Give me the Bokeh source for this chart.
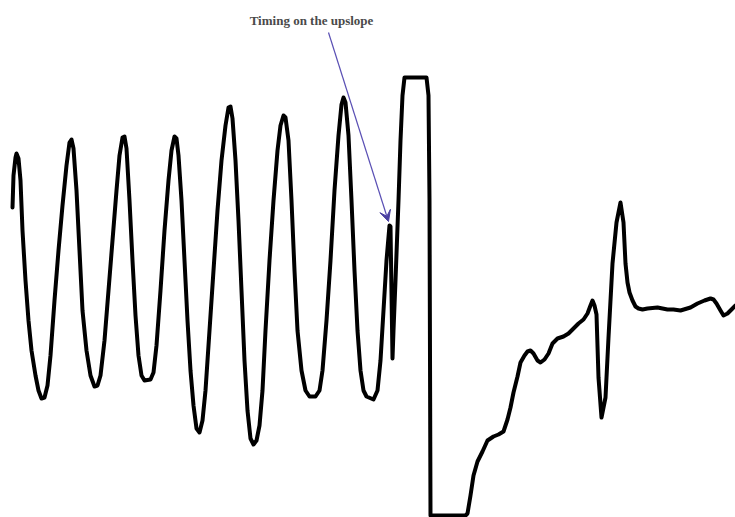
from bokeh.plotting import figure
from bokeh.models import Arrow, VeeHead, Range1d, Label
from bokeh.embed import file_html
from bokeh.resources import INLINE

# Arterial pressure trace (time in samples, pressure in arbitrary units)
t = [12, 13, 15, 16, 18, 20, 22, 25, 28, 31, 35, 38, 41, 44, 47, 50, 54, 58, 62, 66,
     69, 71, 73, 76, 79, 82, 86, 90, 94, 97, 100, 104, 108, 112, 116, 119, 122, 124, 126,
     129, 132, 135, 138, 141, 144, 150, 153, 156, 160, 164, 168, 171, 174, 176, 178, 181,
     184, 187, 190, 193, 196, 199, 202, 205, 209, 213, 217, 221, 225, 228, 230, 232, 235,
     238, 241, 244, 247, 250, 253, 256, 259, 262, 265, 269, 273, 277, 280, 283, 285, 288,
     291, 294, 297, 301, 305, 309, 315, 319, 322, 326, 330, 334, 338, 341, 343, 345, 348,
     351, 354, 357, 360, 363, 366, 373, 377, 380, 383, 386, 389, 390, 392, 393, 395, 398,
     400, 402, 404, 426, 428, 429, 430, 465, 467, 470, 473, 477, 482, 487, 493, 498, 503,
     507, 510, 513, 517, 520, 524, 527, 530, 533, 537, 540, 544, 548, 552, 557, 563, 568,
     573, 578, 583, 587, 590, 592, 594, 596, 598, 601, 605, 608, 612, 616, 620, 623, 625,
     627, 629, 632, 635, 638, 642, 647, 657, 667, 673, 680, 690, 697, 704, 710, 713, 716,
     720, 723, 727, 732, 735]
pressure = [310, 342, 360, 364, 359, 337, 287, 237, 197, 167, 142, 127, 119, 120, 132, 162,
            217, 267, 312, 352, 375, 378, 369, 327, 267, 207, 167, 142, 131, 132, 142, 177,
            227, 277, 327, 362, 380, 381, 369, 317, 257, 202, 162, 142, 137, 138, 145, 172,
            227, 287, 337, 367, 381, 379, 362, 317, 257, 197, 147, 112, 89, 85, 97, 127, 187,
            247, 307, 357, 392, 410, 411, 399, 357, 297, 227, 157, 107, 79, 73, 77, 92, 127,
            187, 257, 317, 367, 392, 402, 400, 377, 317, 247, 187, 147, 127, 121, 121, 127,
            147, 197, 257, 327, 382, 413, 420, 415, 382, 317, 247, 187, 147, 127, 121, 118,
            127, 157, 207, 257, 292, 291, 159, 187, 237, 317, 377, 422, 440, 440, 422, 317,
            2, 2, 4, 22, 42, 56, 66, 77, 81, 83, 86, 98, 110, 125, 141, 155, 162, 166, 167,
            164, 157, 155, 158, 164, 174, 179, 181, 184, 189, 194, 198, 204, 212, 217, 212,
            203, 140, 100, 120, 180, 254, 295, 315, 295, 254, 235, 225, 217, 211, 209, 208,
            209, 210, 208, 208, 207, 210, 214, 217, 219, 218, 214, 207, 202, 204, 209, 212]

annotation = "Timing on the upslope"

p = figure(width=735, height=517, output_backend="svg", toolbar_location=None,
           x_range=Range1d(0, 735), y_range=Range1d(0, 517),
           min_border=0, outline_line_color=None)
p.axis.visible = False
p.grid.visible = False
p.background_fill_color = "white"
p.border_fill_color = "white"

p.line(t, pressure, line_color="black", line_width=4, line_join="round", line_cap="round")

# pointer to the balloon inflation spike on the upslope
p.add_layout(Arrow(x_start=328, y_start=485, x_end=388, y_end=296,
                   line_color="#5a50b4", line_width=1.2,
                   end=VeeHead(size=11, fill_color="#4a3fa0", line_color="#4a3fa0")))

p.add_layout(Label(x=311, y=490, text=annotation, text_align="center",
                   text_baseline="bottom", text_font="Liberation Serif",
                   text_font_style="bold", text_font_size="13px", text_color="#4a4a4a"))

open("out.html", "w").write(file_html(p, INLINE))
